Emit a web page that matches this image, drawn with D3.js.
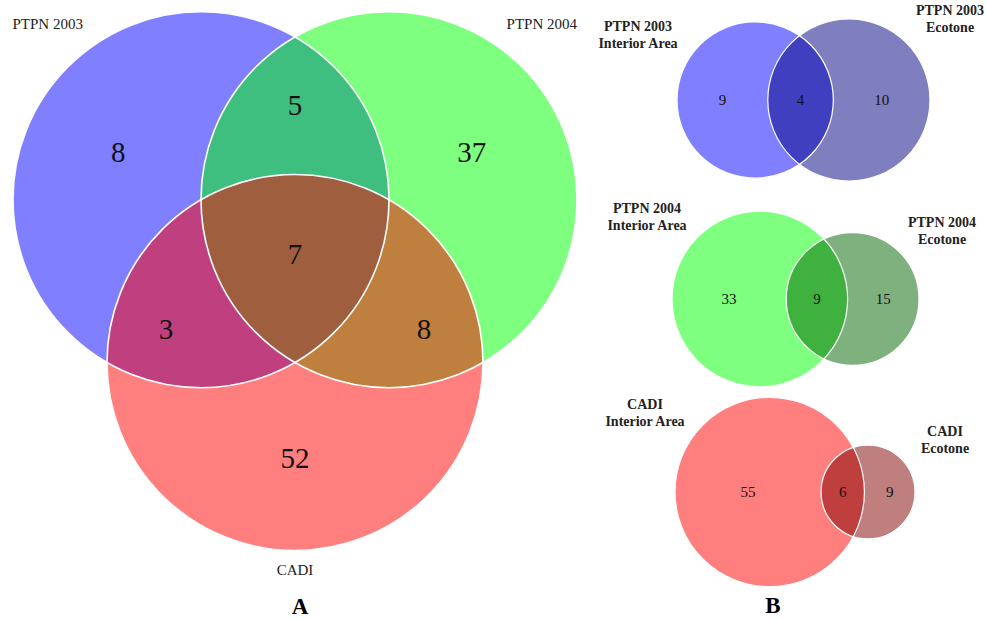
<!DOCTYPE html>
<html><head><meta charset="utf-8">
<script src="https://cdn.jsdelivr.net/npm/d3@7"></script>
<style>body{margin:0;background:#fff}svg{display:block}</style>
</head><body><svg id="c" width="986" height="619"></svg>
<script>
// ---------- DATA ----------
// Panel A: three-set Venn
const setNamesA = ["PTPN 2003", "PTPN 2004", "CADI"];
const setColorsA = ["#0000FF", "#00FF00", "#FF0000"];
const onlyA = [8, 37, 52];          // only 2003, only 2004, only CADI
const pairA = [5, 8, 3];            // 2003∩2004, 2004∩CADI, CADI∩2003
const allA = 7;                     // all three

// Panel B: two-set Venns (Interior Area vs Ecotone)
const panelTitles = ["PTPN 2003", "PTPN 2004", "CADI"];
const subNames = ["Interior Area", "Ecotone"];
const interiorOnly = [9, 33, 55];
const shared = [4, 9, 6];
const ecotoneOnly = [10, 15, 9];
const interiorColors = ["#0000FF", "#00FF00", "#FF0000"];
const ecotoneColors = ["#000080", "#006400", "#800000"];
const panelLetters = ["A", "B"];

// ---------- LAYOUT ----------
const svg = d3.select("#c");
const FONT = "'Liberation Serif','Times New Roman',serif";

// Panel A geometry (symmetric 3-set diagram)
const A_cx = 295, A_cy = 254, A_r = 188;
const A_off = A_r / Math.sqrt(3);
const angA = [-150, -30, 90].map(a => a * Math.PI / 180);
const circA = angA.map(a => ({ x: A_cx + A_off * Math.cos(a), y: A_cy + A_off * Math.sin(a) }));

const gA = svg.append("g");
gA.selectAll("circle.fill").data(circA).join("circle")
  .attr("class", "fill")
  .attr("cx", d => d.x).attr("cy", d => d.y).attr("r", A_r)
  .attr("fill", (d, i) => setColorsA[i]).attr("fill-opacity", 0.5);
gA.selectAll("circle.edge").data(circA).join("circle")
  .attr("class", "edge")
  .attr("cx", d => d.x).attr("cy", d => d.y).attr("r", A_r)
  .attr("fill", "none").attr("stroke", "#fff").attr("stroke-width", 1.6);

// region labels
const regionLabels = [];
onlyA.forEach((v, i) => regionLabels.push({ v, a: angA[i], d: 204 }));
const pairAng = [-90, 30, 150].map(a => a * Math.PI / 180);
pairA.forEach((v, i) => regionLabels.push({ v, a: pairAng[i], d: 149 }));
regionLabels.push({ v: allA, a: 0, d: 0 });
gA.selectAll("text.num").data(regionLabels).join("text")
  .attr("x", d => A_cx + d.d * Math.cos(d.a))
  .attr("y", d => A_cy + d.d * Math.sin(d.a))
  .attr("dy", "0.35em")
  .attr("text-anchor", "middle")
  .style("font-family", FONT).style("font-size", "29px").attr("fill", "#111")
  .text(d => d.v);

// set names
const setLabelPos = [
  { x: 12.5, y: 29, anchor: "start" },
  { x: 577, y: 29, anchor: "end" },
  { x: 295, y: 575, anchor: "middle" }
];
gA.selectAll("text.set").data(setNamesA).join("text")
  .attr("x", (d, i) => setLabelPos[i].x)
  .attr("y", (d, i) => setLabelPos[i].y)
  .attr("text-anchor", (d, i) => setLabelPos[i].anchor)
  .style("font-family", FONT).style("font-size", "15px").attr("fill", "#222")
  .text(d => d);

// ---------- Panel B ----------
function lensArea(r1, r2, d) {
  if (d >= r1 + r2) return 0;
  if (d <= Math.abs(r1 - r2)) return Math.PI * Math.min(r1, r2) ** 2;
  const a1 = Math.acos((d * d + r1 * r1 - r2 * r2) / (2 * d * r1));
  const a2 = Math.acos((d * d + r2 * r2 - r1 * r1) / (2 * d * r2));
  const k = Math.sqrt((-d + r1 + r2) * (d + r1 - r2) * (d - r1 + r2) * (d + r1 + r2));
  return r1 * r1 * a1 + r2 * r2 * a2 - 0.5 * k;
}
function solveDist(r1, r2, target) {
  let lo = Math.abs(r1 - r2), hi = r1 + r2;
  for (let k = 0; k < 80; k++) {
    const mid = (lo + hi) / 2;
    if (lensArea(r1, r2, mid) > target) lo = mid; else hi = mid;
  }
  return (lo + hi) / 2;
}

const B_left = [677, 672, 675];
const B_width = [253, 247, 240];
const B_cy = [100, 299, 492];
const B_leftLab = [{ x: 638, y: 31 }, { x: 647, y: 213 }, { x: 645, y: 409 }];
const B_rightLab = [{ x: 950, y: 15 }, { x: 942, y: 227 }, { x: 945, y: 436 }];

panelTitles.forEach((title, i) => {
  const n1 = interiorOnly[i] + shared[i];
  const n2 = ecotoneOnly[i] + shared[i];
  const u1 = Math.sqrt(n1 / Math.PI), u2 = Math.sqrt(n2 / Math.PI);
  const du = solveDist(u1, u2, shared[i]);
  const k = B_width[i] / (u1 + du + u2);
  const rScale = d3.scaleSqrt().domain([0, 1]).range([0, k / Math.sqrt(Math.PI)]);
  const r1 = rScale(n1), r2 = rScale(n2), d = du * k;
  const x1 = B_left[i] + r1, x2 = x1 + d, cy = B_cy[i];
  const circles = [
    { x: x1, r: r1, c: interiorColors[i] },
    { x: x2, r: r2, c: ecotoneColors[i] }
  ];
  const g = svg.append("g");
  g.selectAll("circle.fill").data(circles).join("circle")
    .attr("cx", c => c.x).attr("cy", cy).attr("r", c => c.r)
    .attr("fill", c => c.c).attr("fill-opacity", 0.5);
  g.selectAll("circle.edge").data(circles).join("circle")
    .attr("class", "edge")
    .attr("cx", c => c.x).attr("cy", cy).attr("r", c => c.r)
    .attr("fill", "none").attr("stroke", "#fff").attr("stroke-width", 1.2);

  const l1 = x1 - r1, rt1 = x1 + r1, l2 = x2 - r2, rt2 = x2 + r2;
  const nums = [
    { v: interiorOnly[i], x: (l1 + l2) / 2 },
    { v: shared[i], x: (l2 + rt1) / 2 },
    { v: ecotoneOnly[i], x: (rt1 + rt2) / 2 }
  ];
  g.selectAll("text.num").data(nums).join("text")
    .attr("x", n => n.x).attr("y", cy).attr("dy", "0.35em")
    .attr("text-anchor", "middle")
    .style("font-family", FONT).style("font-size", "15px").attr("fill", "#111")
    .text(n => n.v);

  [[B_leftLab[i], subNames[0]], [B_rightLab[i], subNames[1]]].forEach(([p, sub]) => {
    const t = g.append("text")
      .attr("text-anchor", "middle")
      .style("font-family", FONT).style("font-size", "14px").style("font-weight", "bold")
      .attr("fill", "#222");
    t.append("tspan").attr("x", p.x).attr("y", p.y).text(title);
    t.append("tspan").attr("x", p.x).attr("y", p.y + 17).text(sub);
  });
});

// panel letters
const letterPos = [{ x: 300, y: 614 }, { x: 773, y: 613 }];
svg.selectAll("text.letter").data(panelLetters).join("text")
  .attr("x", (d, i) => letterPos[i].x).attr("y", (d, i) => letterPos[i].y)
  .attr("text-anchor", "middle")
  .style("font-family", FONT).style("font-size", "23px").style("font-weight", "bold")
  .attr("fill", "#000")
  .text(d => d);
</script>
</body></html>
